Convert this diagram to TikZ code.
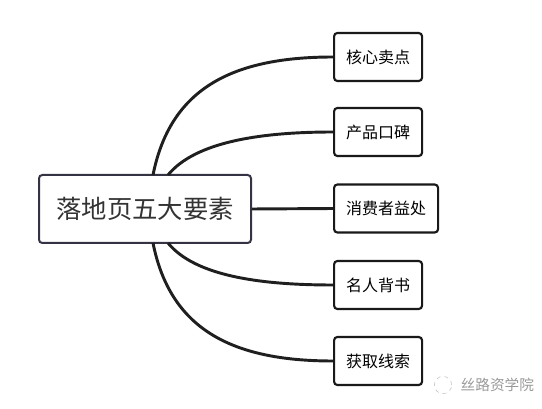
\documentclass[tikz,border=0pt]{standalone}
\usepackage{fontspec}
\setmainfont{Noto Sans CJK SC}
\definecolor{coreline}{RGB}{52,51,68}
\begin{document}
\begin{tikzpicture}[
        x=0.75pt, y=-0.75pt,
        corenode/.style={
            rectangle,
            rounded corners=2.5pt,
            draw=coreline,
            line width=1.5pt,
            text=black!80,
            align=center,
            minimum width=159pt,
            minimum height=51pt,
            font=\fontsize{19pt}{22pt}\selectfont
        },
        itemnode/.style={
            rectangle,
            rounded corners=2.5pt,
            draw=black!90,
            line width=1.6pt,
            anchor=west,
            align=center,
            inner xsep=9pt,
            minimum height=36pt,
            font=\fontsize{12pt}{14pt}\selectfont
        },
        link/.style={
            line width=2.2pt,
            draw=black!88
        }
    ]
        \useasboundingbox (0,0) rectangle (542,409);

        % Central topic
        \node[corenode] (core) at (145,209) {落地页五大要素};

        % Branches
        \node[itemnode] (sell) at (333,57) {核心卖点};
        \node[itemnode] (praise) at (333,132) {产品口碑};
        \node[itemnode] (gain) at (333,208.5) {消费者益处};
        \node[itemnode] (star) at (333,285) {名人背书};
        \node[itemnode] (lead) at (333,361) {获取线索};

        % Start points on the central box
        \coordinate (t1) at (153,175);
        \coordinate (t2) at (168,175);
        \coordinate (b2) at (168,243);
        \coordinate (b1) at (153,243);

        \draw[link] (t1) .. controls (170,90) and (230,57) .. (sell.west);
        \draw[link] (t2) .. controls (195,142) and (260,132) .. (praise.west);
        \draw[link] (core.east) -- (gain.west);
        \draw[link] (b2) .. controls (195,276) and (260,285) .. (star.west);
        \draw[link] (b1) .. controls (170,328) and (230,361) .. (lead.west);

        % Watermark
        \node[draw=black!25, circle, dashed, minimum size=13pt, inner sep=0pt]
            (logo) at (443,385) {};
        \node[text=black!40, anchor=west, font=\fontsize{11pt}{13pt}\selectfont]
            (mark) at (456,385) {丝路资学院};

    \end{tikzpicture}
\end{document}
